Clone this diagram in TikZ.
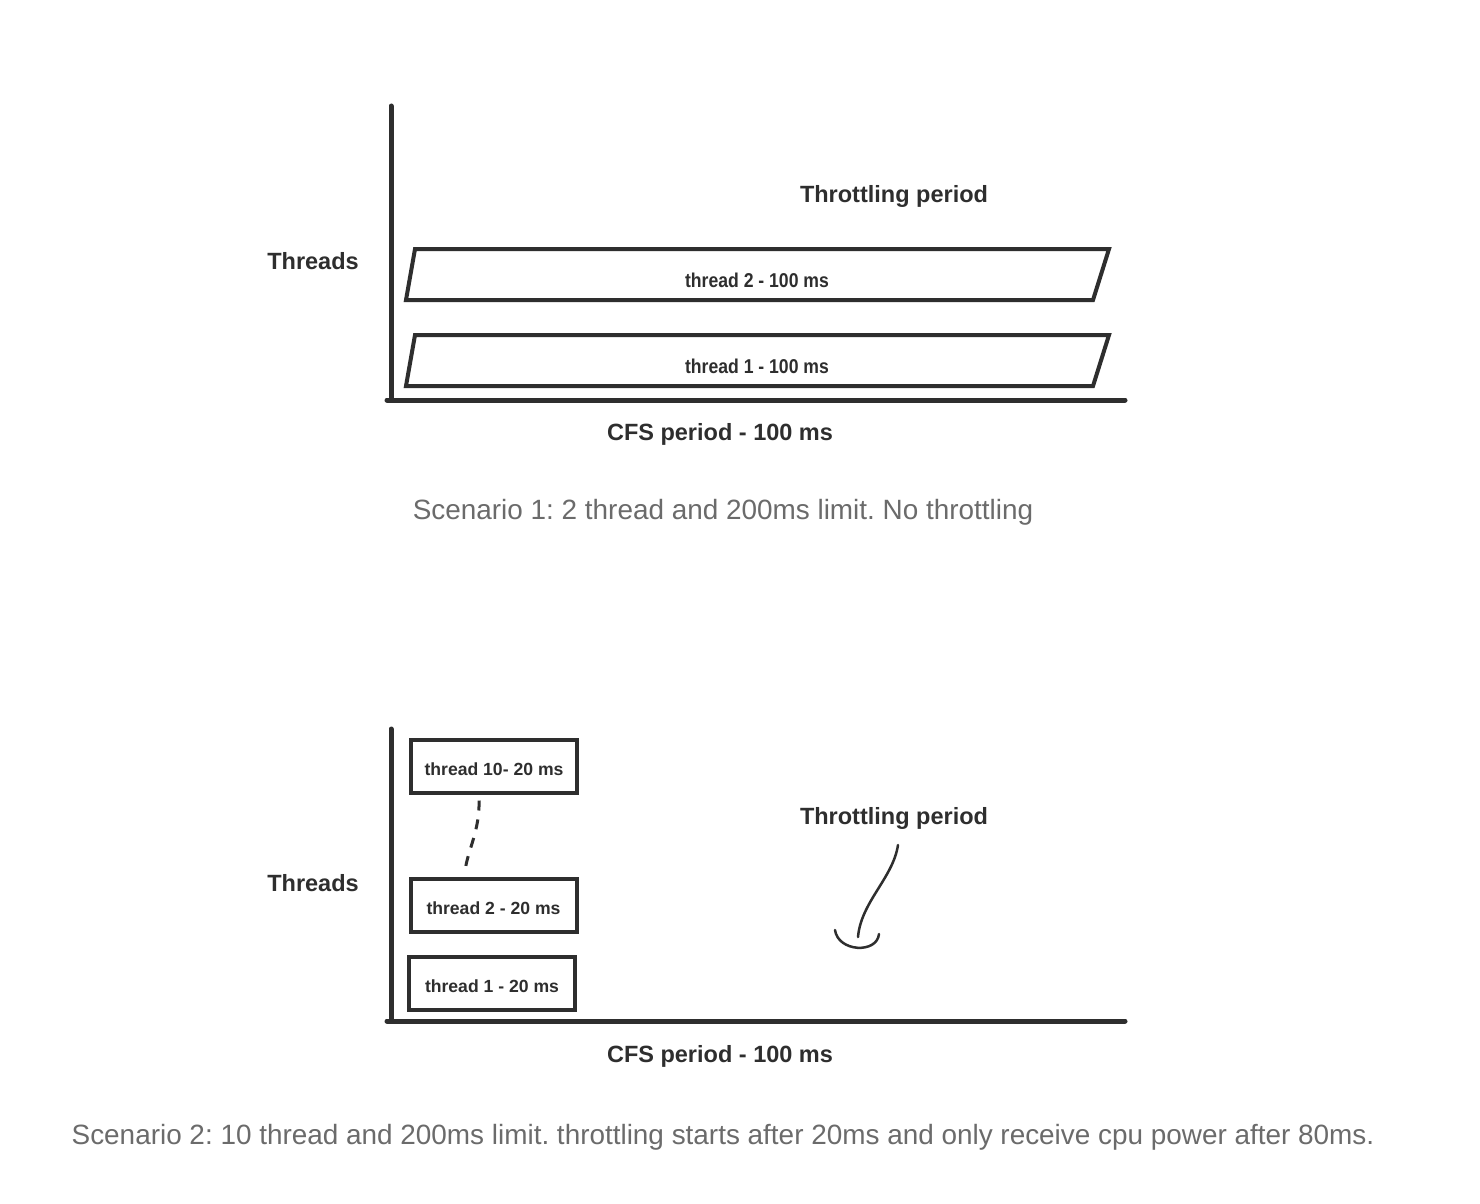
\documentclass[tikz,border=0pt]{standalone}
\usepackage{fontspec}
\setmainfont{Liberation Sans}
\definecolor{ink}{HTML}{2E2E2E}
\definecolor{capgray}{HTML}{6B6B6B}
\frenchspacing
\begin{document}
\begin{tikzpicture}[x=1pt,y=-1pt,
  axis/.style={line width=5pt, draw=ink, line cap=round},
  bar/.style={line width=4pt, draw=ink, line join=miter},
  lbl/.style={font=\fontsize{23.5}{28}\selectfont\bfseries, text=ink, inner sep=0pt},
  tlbl/.style={font=\fontsize{20}{24}\selectfont\bfseries, text=ink, inner sep=0pt},
  sbox/.style={draw=ink, line width=4pt, minimum width=166pt, minimum height=53pt, inner sep=0pt,
    font=\fontsize{17.6}{21}\selectfont\bfseries, text=ink},
  caption/.style={font=\fontsize{27.9}{33}\selectfont, text=capgray, inner sep=0pt},
  sketch/.style={draw=ink, line width=2.5pt, line cap=round}
]
\useasboundingbox[fill=white] (0,0) rectangle (1480,1204);

% ---------- Scenario 1 ----------
\coordinate (ay1top) at (391,106);
\coordinate (ay1bot) at (391,400);
\coordinate (ax1l) at (387,400);
\coordinate (ax1r) at (1125,400);
\draw[axis] (ay1top) -- (ay1bot);
\draw[axis] (ax1l) -- (ax1r);

\draw[bar] (415,249) -- (1109,249) -- (1093,300) -- (406,300) -- cycle;
\draw[bar] (415,335) -- (1109,335) -- (1093,386) -- (406,386) -- cycle;
\node[tlbl] (t2a) at (757,280) {\scalebox{0.88}[1]{thread 2 - 100 ms}};
\node[tlbl] (t1a) at (757,366) {\scalebox{0.88}[1]{thread 1 - 100 ms}};

\node[lbl] (thr1) at (313,261) {Threads};
\node[lbl] (thp1) at (894,196) {Throttling period};
\node[lbl] (cfs1) at (720,434) {CFS period - 100 ms};
\node[caption] (cap1) at (723,512) {Scenario 1: 2 thread and 200ms limit. No throttling};

% ---------- Scenario 2 ----------
\coordinate (ay2top) at (391,729);
\coordinate (ay2bot) at (391,1021);
\coordinate (ax2l) at (387,1021);
\coordinate (ax2r) at (1125,1021);
\draw[axis] (ay2top) -- (ay2bot);
\draw[axis] (ax2l) -- (ax2r);

\node[sbox] (t10b) at (494,766) {\raisebox{-9.3pt}[0pt][0pt]{thread 10- 20 ms}};
\node[sbox] (t2b) at (493.5,905) {\raisebox{-9.3pt}[0pt][0pt]{thread 2 - 20 ms}};
\node[sbox] (t1b) at (492,983) {\raisebox{-9.3pt}[0pt][0pt]{thread 1 - 20 ms}};
\draw[draw=ink, line width=3pt, dash pattern=on 10pt off 9pt]
  ([xshift=-15pt,yshift=-6pt]t10b.south) .. controls ([xshift=-14pt,yshift=-35pt]t10b.south) and ([xshift=-26pt,yshift=25pt]t2b.north) .. ([xshift=-28pt,yshift=8pt]t2b.north);

\node[lbl] (thr2) at (313,883) {Threads};
\node[lbl] (thp2) at (894,818) {Throttling period};
\node[lbl] (cfs2) at (720,1056) {CFS period - 100 ms};

\coordinate (arrS) at (898,845);
\coordinate (arrE) at (858,937);
\coordinate (cupL) at (835,930);
\coordinate (cupR) at (879,934);
\draw[sketch] (arrS) .. controls (893,878) and (861,902) .. (arrE);
\draw[sketch] (cupL) .. controls (838,952) and (877,954) .. (cupR);

\node[caption] (cap2) at (723,1137) {Scenario 2: 10 thread and 200ms limit. throttling starts after 20ms and only receive cpu power after 80ms.};
\end{tikzpicture}
\end{document}
